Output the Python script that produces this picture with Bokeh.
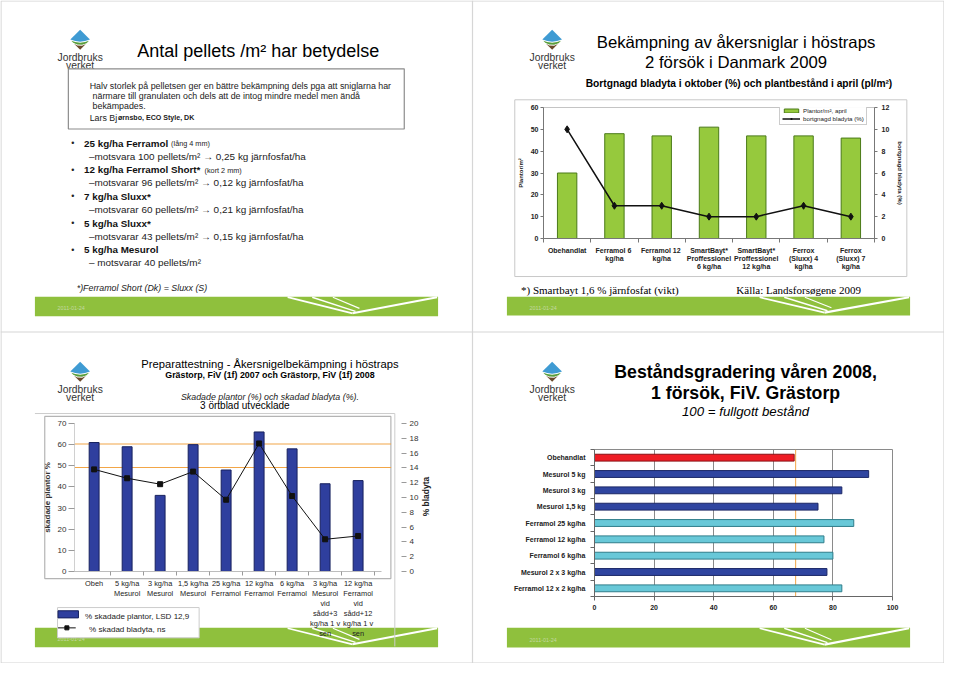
import math
from bokeh.plotting import figure
from bokeh.models import Range1d, LinearAxis, FixedTicker, Legend, LegendItem, GridBox
from bokeh.core.properties import value
from bokeh.embed import file_html
from bokeh.resources import INLINE

FONT = "Liberation Sans"
SERIF = "Liberation Serif"

# ---------------- data ----------------
s1_title = "Antal pellets /m² har betydelse"
s1_quote = ["Halv storlek på pelletsen ger en bättre bekämpning dels pga att sniglarna har",
            "närmare till granulaten och dels att de intog mindre medel men ändå",
            "bekämpades."]
s1_author = ["Lars Bj", "ørnsbo, ECO Style, DK"]
s1_main = ["25 kg/ha Ferramol", "12 kg/ha Ferramol Short*", "7 kg/ha Sluxx*", "5 kg/ha Sluxx*", "5 kg/ha Mesurol"]
s1_note = ["(lång 4 mm)", "(kort 2 mm)", "", "", ""]
s1_sub = ["–motsvara 100 pellets/m² → 0,25 kg järnfosfat/ha",
          "–motsvarar 96 pellets/m²  → 0,12 kg järnfosfat/ha",
          "–motsvarar 60 pellets/m²  → 0,21 kg järnfosfat/ha",
          "–motsvarar 43 pellets/m²  → 0,15 kg järnfosfat/ha",
          "– motsvarar 40 pellets/m²"]
s1_foot = "*)Ferramol Short (Dk) = Sluxx (S)"
date_text = "2011-01-24"
logo_text = ["Jordbruks", "verket"]

s2_title = ["Bekämpning av åkersniglar i höstraps", "2 försök i Danmark 2009"]
s2_subtitle = "Bortgnagd bladyta i oktober (%) och plantbestånd i april (pl/m²)"
s2_categories = ["Obehandlat", "Ferramol  6\nkg/ha", "Ferramol  12\nkg/ha",
                 "SmartBayt*\nProffessionel\n6 kg/ha", "SmartBayt*\nProffessionel\n12 kg/ha",
                 "Ferrox\n(Sluxx) 4\nkg/ha", "Ferrox\n(Sluxx) 7\nkg/ha"]
s2_plants = [30, 48, 47, 51, 47, 47, 46]
s2_leaf = [10, 3, 3, 2, 2, 3, 2]
s2_left_ticks = [0, 10, 20, 30, 40, 50, 60]
s2_right_ticks = [0, 2, 4, 6, 8, 10, 12]
s2_series = ["Plantor/m², april", "bortgnagd bladyta (%)"]
s2_axis_titles = ["Plantor/m²", "bortgnagd bladyta (%)"]
s2_notes = ["*) Smartbayt 1,6 % järnfosfat (vikt)", "Källa: Landsforsøgene 2009"]

s3_title = ["Preparattestning - Åkersnigelbekämpning i höstraps",
            "Grästorp, FiV (1f) 2007 och Grästorp, FiV (1f) 2008",
            "Skadade plantor (%) och skadad bladyta (%).",
            "3 örtblad utvecklade"]
s3_categories = ["Obeh", "5 kg/ha\nMesurol", "3 kg/ha\nMesurol", "1,5 kg/ha\nMesurol",
                 "25 kg/ha\nFerramol", "12 kg/ha\nFerramol", "6 kg/ha\nFerramol",
                 "3 kg/ha\nMesurol\nvid\nsådd+3\nkg/ha 1 v\nsen",
                 "12 kg/ha\nFerramol\nvid\nsådd+12\nkg/ha 1 v\nsen"]
s3_plants = [61, 59, 36, 60, 48, 66, 58, 41.5, 43]
s3_leaf = [13.8, 12.6, 11.8, 13.5, 9.7, 17.3, 10.2, 4.35, 4.8]
s3_ref_lines = [60.3, 49.2]
s3_left_ticks = [0, 10, 20, 30, 40, 50, 60, 70]
s3_right_ticks = [0, 2, 4, 6, 8, 10, 12, 14, 16, 18, 20]
s3_series = ["% skadade plantor, LSD 12,9", "% skadad bladyta, ns"]
s3_axis_titles = ["skadade plantor %", "% bladyta"]

s4_title = ["Beståndsgradering våren 2008,", "1 försök, FiV. Grästorp", "100 = fullgott bestånd"]
s4_categories = ["Obehandlat", "Mesurol 5 kg", "Mesurol 3 kg", "Mesurol 1,5 kg", "Ferramol 25 kg/ha",
                 "Ferramol 12 kg/ha", "Ferramol 6 kg/ha", "Mesurol 2 x 3 kg/ha", "Ferramol 12 x 2 kg/ha"]
s4_values = [67, 92, 83, 75, 87, 77, 80, 78, 83]
s4_group = ["obehandlat", "mesurol", "mesurol", "mesurol", "ferramol", "ferramol", "ferramol", "mesurol", "ferramol"]
s4_ref_line = 67.5
s4_ticks = [0, 20, 40, 60, 80, 100]

# ---------------- styles ----------------
GREEN = "#8fc03d"
LIME = "#96c93d"
BLUE = "#2f3f9e"
GROUP_FILL = {"obehandlat": "#ee1d25", "mesurol": "#2f45a0", "ferramol": "#68c8d8"}
GROUP_LINE = {"obehandlat": "#8a1014", "mesurol": "#1b2766", "ferramol": "#2f7d8a"}
ORANGE = "#f2a648"

PAGE_W, PAGE_H = 944, 663
SX = PAGE_W / 960.0
W = 472
HT, HB = 331, 332

# ---------------- page decoration layer (reference pixel coordinates) ----------------
D = figure(width=PAGE_W, height=PAGE_H, x_range=Range1d(0, 960), y_range=Range1d(679, 0),
           x_axis_type=None, y_axis_type=None, toolbar_location=None, output_backend="svg",
           min_border=0, outline_line_color=None, background_fill_color="white",
           border_fill_color="white", frame_align=False)
D.grid.visible = False


def T(x, y, s, size, color="#111111", style="normal", align="left", font=FONT, angle=0.0,
      baseline="middle"):
    D.text(x=[x], y=[y], text=[s], text_font=value(font), text_font_size=f"{size * SX:.2f}px",
           text_font_style=style, text_color=color, text_align=align, text_baseline=baseline,
           angle=angle)


def R(x0, y0, x1, y1, fill=None, line=None, lw=1.0):
    D.quad(left=[x0], right=[x1], top=[y0], bottom=[y1], fill_color=fill, line_color=line,
           line_width=lw)


def logo(cx, cy):
    D.patch([cx, cx + 10, cx + 5, cx, cx - 5, cx - 10],
            [cy - 10, cy, cy + 1.5, cy + 2.2, cy + 1.5, cy], fill_color="#3f9bd3", line_color=None)
    D.patch([cx - 9, cx - 5, cx, cx + 5, cx + 9, cx + 6.5, cx + 2, cx - 3, cx - 7],
            [cy + 1.2, cy + 2.6, cy + 3.3, cy + 2.6, cy + 1.2, cy + 3.8, cy + 5.3, cy + 5.0, cy + 3.2],
            fill_color="#5a9e3c", line_color=None)
    D.patch([cx - 6.2, cx - 3, cx + 2, cx + 5.8, cx],
            [cy + 4.4, cy + 6.1, cy + 6.4, cy + 4.6, cy + 10.5], fill_color="#6b4a2b", line_color=None)
    T(cx, cy + 18.3, logo_text[0], 10.5, color="#333333", align="center")
    T(cx, cy + 26.7, logo_text[1], 10.5, color="#333333", align="center")


def band(x0, y0, x1, y1):
    R(x0, y0, x1, y1, fill=GREEN)
    D.multi_line(xs=[[x1 - 153, x1 - 87], [x1 - 128, x1 - 84], [x1 - 107, x1 - 80], [x1 - 87, x1 - 1]],
                 ys=[[y0 + 0.6, y1 - 3], [y0 + 0.6, y1 - 5], [y0 + 0.6, y1 - 8], [y1 - 3, y0 + 0.6]],
                 line_color="white", line_width=[1.8, 1.4, 1.1, 2.2])
    T(x0 + 23, (y0 + y1) / 2 + 2, date_text, 5.5, color="#c4d8a2")


# page frame and slide separators
R(0.5, 0.5, 959.5, 678.5, line="#d4d4d4", lw=1.2)
D.line([480, 480], [0, 679], line_color="#d6d6d6", line_width=1.2)
D.line([0, 960], [339.5, 339.5], line_color="#d6d6d6", line_width=1.2)
for cx, cy in [(81, 40), (561, 40), (81, 380), (561, 380)]:
    logo(cx, cy)

# slide 1
T(139, 52, s1_title, 18.3, color="#000000")
R(69, 70, 410.6, 131.6, fill="white", line="#8c8c8c", lw=1.2)
for i, line in enumerate(s1_quote):
    T(90.7 if i == 0 else 93.6, 88 + i * 10.2, line, 9.0, color="#222222")
T(90.7, 120, s1_author[0], 9.0, color="#222222")
T(119.5, 120.4, s1_author[1], 7.2, color="#222222", style="bold")
note_x = [173.5, 207.5]
for i in range(len(s1_main)):
    y = 146 + i * 27.3
    T(72, y, "•", 9, color="#222222")
    T(85, y, s1_main[i], 10.0, color="#111111", style="bold")
    if s1_note[i]:
        T(note_x[i], y + 0.5, s1_note[i], 7.4, color="#222222")
    T(90, y + 13.3, s1_sub[i], 10.1, color="#222222")
T(77.5, 294, s1_foot, 9.0, color="#222222", style="italic")
band(35, 303.3, 445, 323.3)

# slide 2
T(748, 43, s2_title[0], 17, color="#000000", align="center")
T(748, 64, s2_title[1], 17, color="#000000", align="center")
T(751, 85, s2_subtitle, 10.4, color="#000000", align="center", style="bold")
R(523, 101.7, 921.7, 282.7, line="#c8c8c8", lw=1)
T(529.3, 296, s2_notes[0], 11.2, color="#000000", font=SERIF)
T(748.3, 296, s2_notes[1], 11.2, color="#000000", font=SERIF)
band(515, 303.3, 925, 322.7)

# slide 3
T(274, 372, s3_title[0], 11.4, color="#000000", align="center")
T(274, 384, s3_title[1], 9.0, color="#000000", align="center", style="bold")
T(274, 406.3, s3_title[2], 9.0, color="#222222", align="center", style="italic")
T(248.5, 415, s3_title[3], 10.2, color="#000000", align="center")
band(35, 642.3, 445, 662.3)
D.line([35, 401, 401], [423, 423, 661.5], line_color="#cccccc", line_width=1)
R(45, 426, 397, 592, line="#b4b4b4", lw=1.2)
T(433, 508, s3_axis_titles[1], 8.6, color="#222222", style="bold", align="center", angle=math.pi / 2)
# legend of slide 3 (drawn below the plot, over the footer band)
R(58, 621.7, 202, 652.7, fill="white", line="#cccccc", lw=1)
R(58.5, 625, 79.3, 632.3, fill=BLUE, line="#17215e", lw=1)
T(86, 630.5, s3_series[0], 8.2, color="#222222")
D.line([58.5, 76.5], [642.5, 642.5], line_color="#111111", line_width=1)
D.scatter([67.5], [642.5], marker="square", size=4, fill_color="#111111", line_color="#111111")
T(90, 644.3, s3_series[1], 8.2, color="#222222")

# slide 4
T(757.7, 380, s4_title[0], 18, color="#000000", align="center", style="bold")
T(757.7, 402, s4_title[1], 18, color="#000000", align="center", style="bold")
T(757.7, 421, s4_title[2], 13.5, color="#000000", align="center", style="italic")
band(515, 642.3, 925, 662.7)


# ---------------- chart layers ----------------
class Slide:
    def __init__(self, ox, oy, h, frame):
        self.h = h
        sx = W / 480.0
        sy = h / 339.5
        fx0, fy0, fx1, fy1 = frame
        self.ml = round((fx0 - ox) * sx)
        self.mr = W - round((fx1 - ox) * sx)
        self.mt = round((fy0 - oy) * sy)
        self.mb = h - round((fy1 - oy) * sy)


def chart_fig(S, **kw):
    return figure(width=W, height=S.h, toolbar_location=None, output_backend="svg",
                  min_border_left=S.ml, min_border_right=S.mr, min_border_top=S.mt,
                  min_border_bottom=S.mb, background_fill_color=None, border_fill_color=None,
                  frame_align=False, **kw)


def style_axis(ax, size, bold, color="#222222"):
    ax.major_label_text_font = FONT
    ax.major_label_text_font_size = f"{size}px"
    ax.major_label_text_font_style = "bold" if bold else "normal"
    ax.major_label_text_color = color
    ax.axis_label_text_font = FONT
    ax.axis_label_text_font_style = "bold"
    ax.axis_label_text_color = color


def value_axis(ax, ticks, tick_out, standoff, line_color, tick_color):
    ax.ticker = FixedTicker(ticks=ticks)
    ax.minor_tick_out = 0
    ax.minor_tick_in = 0
    ax.major_tick_in = 0
    ax.major_tick_out = tick_out
    ax.major_label_standoff = standoff
    ax.axis_line_color = line_color
    ax.major_tick_line_color = tick_color


def category_axis(ax, n, labels, standoff, line_color, start_boundary=-0.5):
    ax.ticker = FixedTicker(ticks=list(range(n)),
                            minor_ticks=[i + start_boundary for i in range(n + 1)])
    ax.major_label_overrides = {i: c for i, c in enumerate(labels)}
    ax.major_tick_out = 0
    ax.major_tick_in = 0
    ax.minor_tick_out = 4
    ax.minor_tick_in = 0
    ax.major_label_standoff = standoff
    ax.axis_line_color = line_color
    ax.minor_tick_line_color = line_color


# slide 2 chart
S2 = Slide(480, 0, HT, frame=(551.7, 109.3, 889.3, 244.3))
x2 = list(range(len(s2_categories)))
p2 = chart_fig(S2, x_range=Range1d(-0.5, len(x2) - 0.5), y_range=Range1d(0, 60))
p2.extra_y_ranges = {"leaf": Range1d(0, 12)}
p2.grid.visible = False
p2.outline_line_color = "#c4c4c4"
b2 = p2.vbar(x=x2, top=s2_plants, width=0.41, fill_color=LIME, line_color="#4a7a18", line_width=1)
l2 = p2.line(x2, s2_leaf, y_range_name="leaf", line_color="#111111", line_width=1.5)
m2 = p2.scatter(x2, s2_leaf, y_range_name="leaf", marker="diamond", size=7,
                fill_color="#111111", line_color="#111111")
xa = p2.xaxis[0]
category_axis(xa, len(x2), s2_categories, 4, "#777777")
style_axis(xa, 7, True)
xa.major_label_text_line_height = 1.19
ya = p2.yaxis[0]
value_axis(ya, s2_left_ticks, 3, 2, "#777777", "#777777")
ya.axis_label = s2_axis_titles[0]
ya.axis_label_text_font_size = "6px"
ya.axis_label_standoff = 4
style_axis(ya, 7, True)
ra = LinearAxis(y_range_name="leaf", axis_label=s2_axis_titles[1])
value_axis(ra, s2_right_ticks, 3, 4, "#777777", "#777777")
ra.axis_label_text_font_size = "6px"
ra.axis_label_standoff = 5
style_axis(ra, 7, True)
p2.add_layout(ra, "right")
leg2 = Legend(items=[LegendItem(label=s2_series[0], renderers=[b2]),
                     LegendItem(label=s2_series[1], renderers=[l2, m2])],
              location=(236, 113), label_text_font=FONT, label_text_font_size="6.2px",
              label_text_color="#222222", glyph_width=18, glyph_height=5, label_height=6,
              label_standoff=3, spacing=1, padding=2, margin=0, border_line_color="#999999",
              border_line_width=1, background_fill_color="white")
p2.add_layout(leg2)

# slide 3 chart
S3 = Slide(0, 339.5, HB, frame=(75, 433.3, 408, 585))
x3 = list(range(len(s3_categories)))
p3 = chart_fig(S3, x_range=Range1d(-0.595, 9.315), y_range=Range1d(0, 70))
p3.extra_y_ranges = {"leaf": Range1d(0, 20)}
p3.grid.visible = False
p3.outline_line_color = None
for v in s3_ref_lines:
    p3.segment(x0=[p3.x_range.start], x1=[len(x3)], y0=[v], y1=[v], line_color=ORANGE, line_width=1.2)
b3 = p3.vbar(x=x3, top=s3_plants, width=0.3, fill_color=BLUE, line_color="#17215e", line_width=1)
l3 = p3.line(x3, s3_leaf, y_range_name="leaf", line_color="#111111", line_width=1)
m3 = p3.scatter(x3, s3_leaf, y_range_name="leaf", marker="square", size=5,
                fill_color="#111111", line_color="#111111")
xa = p3.xaxis[0]
category_axis(xa, len(x3), s3_categories, 3, "#bdbdbd", start_boundary=0.5)
xa.minor_tick_line_color = "#9a9a9a"
xa.bounds = (-0.595, 8.72)
style_axis(xa, 7.4, False)
xa.major_label_text_line_height = 1.13
ya = p3.yaxis[0]
value_axis(ya, s3_left_ticks, 6, 2, "#d0d0d0", "#9a9a9a")
ya.axis_label = s3_axis_titles[0]
ya.axis_label_text_font_size = "8px"
ya.axis_label_standoff = 3
style_axis(ya, 8, False, color="#333333")
ra = LinearAxis(y_range_name="leaf")
value_axis(ra, s3_right_ticks, 5, 3, None, "#9a9a9a")
style_axis(ra, 8, False, color="#333333")
p3.add_layout(ra, "right")

# slide 4 chart
S4 = Slide(480, 339.5, HB, frame=(604, 460, 907.3, 610.7))
y4 = list(range(len(s4_categories)))
p4 = chart_fig(S4, x_range=Range1d(0, 100), y_range=Range1d(len(y4) - 0.5, -0.5))
p4.ygrid.visible = False
p4.xgrid.grid_line_color = "#8a8a8a"
p4.xgrid.ticker = FixedTicker(ticks=s4_ticks)
p4.outline_line_color = "#8a8a8a"
p4.segment(x0=[s4_ref_line], x1=[s4_ref_line], y0=[p4.y_range.start], y1=[p4.y_range.end],
           line_color=ORANGE, line_width=1)
p4.hbar(y=y4, right=s4_values, left=0, height=0.42,
        fill_color=[GROUP_FILL[g] for g in s4_group],
        line_color=[GROUP_LINE[g] for g in s4_group], line_width=1)
xa = p4.xaxis[0]
value_axis(xa, s4_ticks, 4, 4, "#666666", "#666666")
style_axis(xa, 7, True)
ya = p4.yaxis[0]
category_axis(ya, len(y4), s4_categories, 5, "#666666")
style_axis(ya, 7, True)

page = GridBox(children=[(D, 0, 0, 2, 2), (p2, 0, 1), (p3, 1, 0), (p4, 1, 1)])
open("out.html", "w").write(file_html(page, INLINE))
